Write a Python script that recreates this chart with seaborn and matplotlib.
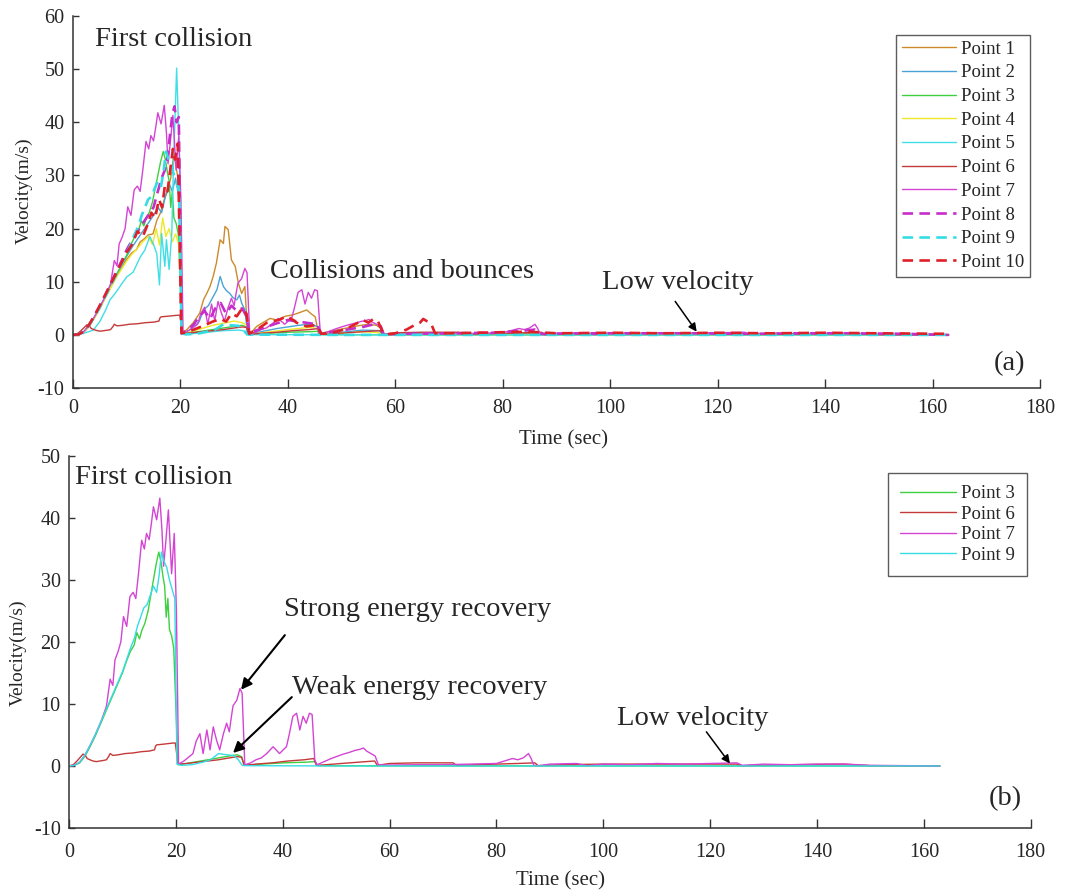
import matplotlib
matplotlib.use("Agg")
import matplotlib.pyplot as plt
import seaborn as sns
import pandas as pd

# ---------------- data: velocity histories of monitoring points ----------------
t1 = [0, 1, 2, 3, 4, 5, 6, 7, 8, 9, 10, 11, 11.8, 12.5, 13.2, 14.0, 14.9, 15.6, 16.3, 17.0, 17.6, 18.2, 18.8, 19.3, 19.8, 20.3,
      21.2, 22.4, 23.6, 24.3, 25.0, 25.5, 26.1, 26.7, 27.4, 28.0, 28.3, 28.9, 29.5, 30.2, 30.8, 31.4, 32.0, 32.5,
      33.5, 34.2, 35.5, 36.7, 38.0, 39.5, 41.0, 42.2, 43.5, 44.3, 45.1, 45.7, 47, 49, 51, 53, 55, 56.5, 57.4, 58,
      65, 75, 85, 95, 110, 130, 163]
v1 = [0, 0.1, 0.5, 1.7, 3.3, 5.1, 7.0, 9.0, 10.8, 12.6, 14.2, 15.5, 16.0, 17.5, 18.0, 18.8, 19.0, 21.5, 23.0, 25.5, 27.0, 29.5, 34.2, 31.0, 28.0, 0.3,
      1.0, 2.3, 4.1, 6.6, 8.0, 9.1, 11.0, 13.5, 17.9, 17.2, 20.4, 19.8, 14.1, 12.9, 9.7, 7.8, 9.1, 0.3,
      0.8, 1.6, 2.4, 3.1, 2.8, 3.5, 3.8, 4.2, 4.7, 4.0, 3.4, 0.2, 0.5, 0.9, 1.3, 1.7, 2.0, 1.8, 1.2, 0.1,
      0.2, 0.2, 0.3, 0.2, 0.2, 0.2, 0.0]

t2 = [0, 1, 2, 3, 4, 5, 6, 7, 8, 9, 10, 11, 12, 13, 14, 15, 15.8, 16.5, 17.2, 17.9, 18.5, 19.1, 19.7, 20.3,
      21.5, 22.5, 23.5, 24.3, 25.2, 26.1, 26.8, 27.4, 28.0, 28.6, 29.2, 29.8, 30.5, 31.0, 31.4, 32.0, 32.5,
      34, 36, 38, 40, 42, 44, 45.5, 46.0, 48, 51, 54, 57, 57.6, 70, 90, 120, 163]
v2 = [0, 0.1, 0.6, 1.8, 3.4, 5.3, 7.2, 9.3, 11.2, 13.0, 14.8, 16.5, 18.0, 19.5, 21.0, 22.5, 24.0, 23.0, 26.0, 28.5, 27.0, 29.5, 26.0, 0.3,
      0.8, 1.5, 2.5, 4.7, 5.5, 7.2, 8.5, 11.0, 9.1, 8.3, 7.8, 7.0, 6.6, 7.5, 6.0, 4.7, 0.2,
      0.4, 0.8, 1.2, 1.5, 1.8, 2.0, 1.6, 0.1, 0.3, 0.6, 0.9, 0.8, 0.1, 0.1, 0.1, 0.1, 0.0]

t3 = [0, 1, 2, 3, 4, 5, 6, 7, 8, 9, 10, 10.8, 11.5, 12.2, 12.7, 13.2, 13.6, 14.2, 14.8, 15.3, 15.8, 16.3, 16.8, 17.2, 17.6,
      17.9, 18.2, 18.5, 18.8, 19.2, 19.6, 20.4, 22, 24, 26, 28, 30, 31.5, 32.3, 32.8, 36, 40, 44, 46, 46.6, 60, 100, 163]
v3 = [0, 0.1, 0.5, 1.6, 3.2, 5.0, 7.0, 9.0, 11.0, 13.0, 15.0, 17.0, 18.5, 19.5, 21.5, 20.5, 21.8, 23.0, 25.0, 27.5, 30.0, 32.5, 34.5, 33.0, 30.5,
      29.0, 24.0, 27.0, 22.0, 21.0, 19.0, 0.2, 0.4, 0.7, 1.0, 1.3, 1.6, 1.8, 1.5, 0.1, 0.3, 0.5, 0.6, 0.7, 0.05, 0.02, 0.0, 0.0]

t4 = [0, 1, 2, 3, 4, 5, 6, 7, 8, 9, 10, 11, 12, 13, 14, 14.8, 15.5, 16.1, 16.7, 17.3, 17.9, 18.5, 19.1, 19.7, 20.3,
      22, 24, 26, 28, 30, 31.5, 32.4, 33, 36, 40, 44, 45.6, 46, 50, 54, 57, 57.5, 70, 100, 163]
v4 = [0, 0.1, 0.5, 1.7, 3.2, 5.0, 6.9, 8.8, 10.7, 12.3, 13.9, 15.2, 16.3, 17.5, 18.5, 17.0, 20.0, 16.9, 22.0, 18.5, 20.0, 17.5, 19.0, 17.0, 0.3,
      0.6, 1.2, 1.8, 2.2, 2.6, 2.3, 1.8, 0.1, 0.5, 1.0, 1.4, 1.2, 0.1, 0.3, 0.6, 0.4, 0.05, 0.05, 0.05, 0.0]

t5 = [0, 0.7, 2, 3.8, 5, 6, 6.9, 8, 9, 10, 11.2, 12.5, 13.4, 14.3, 15.0, 15.6, 16.1, 16.5, 17.1, 17.4, 17.9, 18.4, 18.7, 19.3, 19.8, 20.2,
      22, 25, 28, 31, 32.4, 33, 50, 100, 163]
v5 = [0, 0, 0.3, 0.9, 2.5, 4.5, 6.6, 8.0, 9.5, 10.9, 11.8, 14.6, 16.0, 18.5, 17.0, 15.3, 9.4, 19.1, 12.9, 17.9, 12.3, 19.1, 31.7, 50.2, 34.8, 0.3,
      0.2, 0.5, 0.8, 0.9, 0.6, 0.05, 0.02, 0.0, 0.0]

t6 = [0, 0.8, 1.5, 2.2, 2.6, 3.0, 3.4, 3.9, 4.5, 5.1, 5.8, 6.5, 7.0, 7.4, 7.7, 8.2, 9.2, 10.5, 12, 13.5, 15.0, 16.0, 16.2, 16.4, 17.5, 18.5,
      19.5, 19.9, 20.4, 22, 24, 26, 28, 30, 31.5, 32.3, 32.8, 35, 38, 41, 44, 45.8, 46.3, 48, 51, 54, 57.2, 57.7, 60, 65, 70, 71.9, 72.5,
      76, 80, 84, 87.2, 87.8, 92, 100, 110, 118, 125, 126, 135, 145, 150, 163]
v6 = [0, 0.2, 0.8, 1.5, 1.9, 1.8, 1.2, 1.0, 0.8, 0.7, 0.8, 0.9, 1.0, 1.5, 2.0, 1.7, 1.8, 2.0, 2.1, 2.3, 2.4, 2.6, 3.2, 3.4, 3.5, 3.6,
      3.7, 3.7, 0.3, 0.4, 0.6, 0.8, 1.0, 1.3, 1.5, 1.4, 0.1, 0.3, 0.5, 0.8, 1.0, 1.2, 0.1, 0.2, 0.4, 0.6, 0.8, 0.1, 0.4, 0.5, 0.5, 0.5, 0.1,
      0.2, 0.3, 0.4, 0.5, 0.05, 0.2, 0.3, 0.3, 0.3, 0.3, 0.05, 0.2, 0.3, 0.05, 0.0]

t7 = [0, 1, 2, 3, 4, 5, 6, 7, 7.7, 8.2, 8.6, 9.2, 9.7, 10.2, 10.8, 11.4, 12.0, 12.5, 13.0, 13.6, 14.1, 14.5, 15.0, 15.4, 15.8, 16.4,
      17.0, 17.4, 17.7, 18.1, 18.6, 19.2, 19.7, 20.1, 20.5,
      21.5, 22.5, 23.2, 23.8, 24.5, 25.1, 25.8, 26.4, 27.0, 27.6, 28.2, 28.9, 29.5, 30.0, 30.4, 30.7, 31.4, 32.0, 32.4, 32.9,
      34.0, 35.0, 36.0, 37.0, 38.2, 39.4, 40.2, 40.7, 41.2, 41.9, 42.6, 43.2, 43.8, 44.4, 45.0, 45.5, 46.0, 46.4,
      47.5, 48.8, 50.0, 51.3, 52.5, 53.5, 54.5, 55.1, 55.7, 56.5, 57.3, 57.9,
      60, 65, 70, 75, 80, 83.0, 84.0, 85.0, 86.0, 86.5, 87.0, 88, 90, 95, 97, 100, 105, 110, 115, 120, 125, 126, 130, 135, 140, 145, 150, 163]
v7 = [0, 0.1, 0.6, 1.8, 3.4, 5.2, 7.2, 9.6, 14.0, 13.0, 17.1, 18.5, 20.0, 24.1, 22.5, 27.3, 28.0, 27.0, 31.0, 36.4, 35.0, 37.5, 36.5, 39.0, 41.8, 39.7,
      43.2, 38.0, 32.2, 36.0, 41.3, 31.0, 37.5, 25.0, 0.3,
      0.8, 1.5, 2.0, 4.0, 5.2, 2.0, 5.8, 2.6, 6.3, 4.2, 2.6, 5.2, 6.9, 5.5, 8.0, 9.7, 10.6, 12.5, 11.7, 0.2,
      0.5, 1.0, 1.3, 2.0, 3.1, 2.0, 2.7, 3.1, 5.0, 8.0, 8.5, 5.8, 8.0, 6.9, 8.5, 8.3, 1.0, 0.2,
      0.6, 1.1, 1.5, 1.9, 2.2, 2.5, 2.7, 2.9, 2.4, 2.0, 1.6, 0.2,
      0.15, 0.2, 0.2, 0.3, 0.4, 1.2, 1.0, 1.3, 2.0, 1.2, 0.1, 0.05, 0.3, 0.4, 0.05, 0.3, 0.2, 0.4, 0.3, 0.4, 0.5, 0.1, 0.3, 0.2, 0.3, 0.3, 0.1, 0.0]

t8 = [0, 1, 2, 3, 4, 5, 6, 7, 8, 9, 10, 11, 12, 13, 14, 15, 15.8, 16.5, 17.1, 17.6, 18.1, 18.5, 18.9, 19.3, 19.7, 20.2,
      21.5, 22.5, 23.5, 24.5, 25.5, 26.5, 27.5, 28.5, 29.5, 30.5, 31.5, 32.3, 32.8, 34, 36, 38, 40, 42, 44, 45.5, 46.0,
      48, 51, 54, 56, 57.3, 57.8, 62, 70, 78, 84, 86, 87, 95, 105, 115, 125, 135, 145, 155, 163]
v8 = [0, 0.1, 0.6, 1.9, 3.6, 5.5, 7.5, 9.6, 11.8, 13.8, 16.0, 17.8, 19.5, 21.0, 22.5, 24.0, 27.0, 29.5, 31.0, 33.5, 38.0, 41.5, 43.0, 40.0, 41.0, 0.3,
      1.0, 2.0, 3.5, 4.5, 3.0, 5.0, 6.0, 4.0, 5.5, 4.5, 5.0, 3.5, 0.2, 0.8, 1.5, 2.2, 2.8, 2.5, 2.2, 2.0, 0.2,
      0.5, 1.0, 1.5, 2.0, 1.6, 0.1, 0.2, 0.3, 0.4, 0.8, 1.0, 0.2, 0.3, 0.3, 0.3, 0.2, 0.3, 0.3, 0.2, 0.0]

t9 = [0, 1, 2, 3, 4, 5, 6, 7, 8, 9, 10, 10.8, 11.5, 12.2, 12.8, 13.4, 14.0, 14.6, 15.2, 15.8, 16.4, 16.9, 17.3, 17.8, 18.3, 18.8,
      19.3, 19.8, 20.2, 21, 23, 25, 26.5, 28, 29.5, 30.8, 31.7, 32.4, 33, 50, 100, 163]
v9 = [0, 0.1, 0.6, 1.8, 3.4, 5.2, 7.2, 9.2, 11.2, 13.2, 15.2, 17.2, 19.0, 20.5, 22.5, 24.0, 25.5, 26.0, 27.5, 29.0, 28.0, 31.0, 34.5, 33.0, 32.0, 30.0,
      28.5, 27.0, 0.3, 0.1, 0.2, 0.6, 1.0, 2.0, 1.8, 1.7, 1.0, 0.1, 0.05, 0.0, 0.0, 0.0]

t10 = [0, 1, 2, 3, 4, 5, 6, 7, 8, 9, 10, 11, 12, 13, 14, 14.6, 15.3, 16.0, 16.6, 17.1, 17.6, 18.1, 18.6, 19.0, 19.5, 20.2,
       21.5, 23, 24.5, 26, 27.5, 28.5, 29.5, 30.5, 31.5, 32.3, 32.8, 34, 36.1, 37.5, 38.5, 39.8, 41.0, 41.6, 43.5, 45.0, 45.6, 46.2,
       47.5, 49.1, 51, 52.5, 54.0, 55.0, 55.9, 56.8, 57.5, 58.3, 60, 62.1, 63.5, 64.6, 65.2, 66.0, 66.8, 67.4,
       70, 75, 80, 85, 90, 100, 110, 120, 130, 140, 150, 163]
v10 = [0, 0.1, 0.6, 1.9, 3.6, 5.5, 7.5, 9.5, 11.5, 13.5, 15.5, 17.0, 19.5, 18.5, 21.0, 23.0, 22.0, 25.5, 24.0, 28.0, 27.0, 31.0, 35.0, 33.0, 36.0, 0.3,
       0.6, 1.2, 1.8, 2.5, 3.0, 2.5, 4.0, 3.5, 5.0, 4.0, 0.2, 0.8, 2.3, 2.6, 2.9, 3.5, 2.8, 2.3, 1.6, 1.8, 1.5, 0.2,
       0.3, 0.6, 1.2, 2.0, 2.8, 2.3, 3.0, 2.5, 0.9, 0.1, 0.3, 1.0, 1.8, 2.3, 3.0, 2.5, 1.8, 0.3,
       0.3, 0.4, 0.5, 0.6, 0.3, 0.4, 0.3, 0.4, 0.3, 0.4, 0.3, 0.2]

labels = ["Point 1", "Point 2", "Point 3", "Point 4", "Point 5",
          "Point 6", "Point 7", "Point 8", "Point 9", "Point 10"]
times = [t1, t2, t3, t4, t5, t6, t7, t8, t9, t10]
vels = [v1, v2, v3, v4, v5, v6, v7, v8, v9, v10]

colors = ["#CC8A2A", "#4AA3D6", "#3FCF3F", "#EDE82A", "#40DEE6",
          "#C43A3A", "#D444D4", "#C52EC9", "#36DCE4", "#E02028"]
dashed = [False] * 7 + [True] * 3

subset_b = [2, 5, 6, 8]          # Points 3, 6, 7, 9

xticks = list(range(0, 181, 20))
yticks_a = list(range(-10, 61, 10))
yticks_b = list(range(-10, 51, 10))

# ---------------- style ----------------
sns.set_theme(style="white")
plt.rcParams["font.family"] = ["Liberation Serif", "DejaVu Serif"]
plt.rcParams["axes.edgecolor"] = "#333333"
plt.rcParams["axes.linewidth"] = 1.1
plt.rcParams["axes.unicode_minus"] = False

ANN = 20.5  # annotation font size

fig = plt.figure(figsize=(10.65, 8.9), dpi=100)
ax_a = fig.add_axes([0.0685, 0.564, 0.908, 0.418])
ax_b = fig.add_axes([0.0648, 0.0697, 0.903, 0.418])


def draw(ax, idx, solid_only=False):
    for i in idx:
        df = pd.DataFrame({"t": times[i], "v": vels[i]})
        is_dash = dashed[i] and not solid_only
        kw = dict(linestyle=(0, (4, 2.4)), linewidth=1.9) if is_dash else dict(linestyle="-", linewidth=1.0)
        sns.lineplot(data=df, x="t", y="v", ax=ax, color=colors[i], label=labels[i],
                     estimator=None, sort=False, **kw)


def style_axes(ax, yticks, xpad):
    ax.set_xlim(0, 180)
    ax.set_ylim(yticks[0], yticks[-1])
    ax.set_xticks(xticks)
    ax.set_yticks(yticks)
    for s in ("top", "right"):
        ax.spines[s].set_visible(False)
    ax.tick_params(axis="x", direction="in", length=6.5, width=1.0, color="#333333",
                   pad=xpad, labelsize=14.5, bottom=True)
    ax.tick_params(axis="y", direction="in", length=4, width=1.0, color="#333333",
                   pad=6, labelsize=14.5, left=True)
    ax.set_xlabel("Time (sec)", fontsize=15)
    ax.set_ylabel("Velocity(m/s)", fontsize=14)


def legend(ax, anchor, spacing, pad, hlen):
    lg = ax.legend(loc="upper right", bbox_to_anchor=anchor, bbox_transform=fig.transFigure,
                   borderaxespad=0, fontsize=13.5, handlelength=hlen, handletextpad=0.25,
                   labelspacing=spacing, borderpad=pad, frameon=True, fancybox=False)
    lg.get_frame().set_edgecolor("#333333")
    lg.get_frame().set_linewidth(1.0)
    return lg


def arrow(ax, head, tail, lw, ms):
    ax.annotate("", xy=head, xytext=tail,
                arrowprops=dict(arrowstyle="-|>", color="black", lw=lw,
                                shrinkA=0, shrinkB=0, mutation_scale=ms))


# ---------------- panel (a) ----------------
draw(ax_a, range(10))
style_axes(ax_a, yticks_a, xpad=8)
ax_a.xaxis.set_label_coords(0.507, -0.113)
ax_a.yaxis.set_label_coords(-0.042, 0.53)
legend(ax_a, (1030 / 1065, 1 - 35 / 890), 0.35, 0.3, 2.9)

ax_a.text(4.1, 55.5, "First collision", fontsize=ANN, va="center", ha="left")
ax_a.text(36.7, 11.9, "Collisions and bounces", fontsize=ANN, va="center", ha="left")
ax_a.text(98.4, 9.9, "Low velocity", fontsize=ANN, va="center", ha="left")
arrow(ax_a, (116.1, 0.6), (112.1, 6.3), 1.1, 12)
ax_a.text(174.4, -5.4, "(a)", fontsize=ANN, va="center", ha="center")

# ---------------- panel (b) ----------------
draw(ax_b, subset_b, solid_only=True)
style_axes(ax_b, yticks_b, xpad=11)
ax_b.xaxis.set_label_coords(0.511, -0.115)
ax_b.yaxis.set_label_coords(-0.044, 0.47)
legend(ax_b, (1027 / 1065, 1 - 473 / 890), 0.18, 0.65, 3.0)

ax_b.text(1.1, 46.5, "First collision", fontsize=ANN, va="center", ha="left")
ax_b.text(40.2, 25.3, "Strong energy recovery", fontsize=ANN, va="center", ha="left")
ax_b.text(41.7, 12.7, "Weak energy recovery", fontsize=ANN, va="center", ha="left")
ax_b.text(102.5, 7.6, "Low velocity", fontsize=ANN, va="center", ha="left")
arrow(ax_b, (32.2, 12.3), (40.4, 21.1), 1.5, 16)
arrow(ax_b, (30.7, 2.1), (41.7, 11.1), 1.5, 16)
arrow(ax_b, (123.7, 0.4), (119.3, 5.5), 1.1, 12)
ax_b.text(175.2, -5.3, "(b)", fontsize=ANN, va="center", ha="center")

fig.savefig("out.png", dpi=100)
